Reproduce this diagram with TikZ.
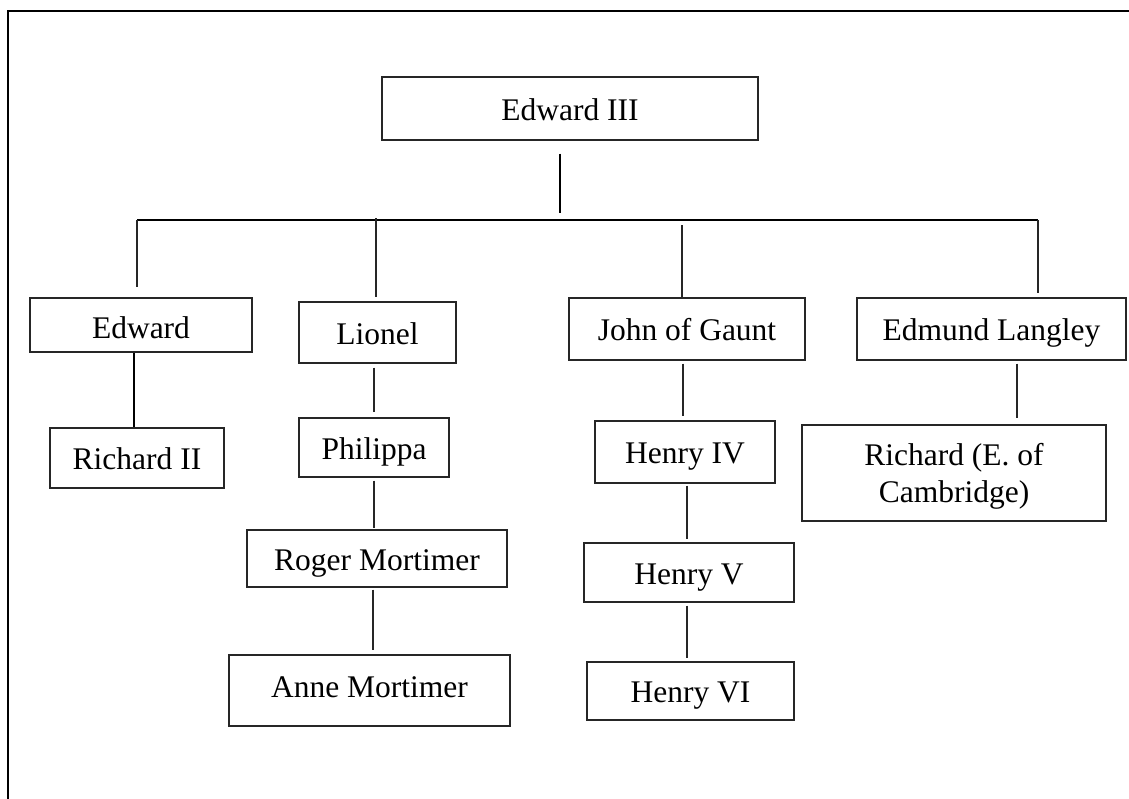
\documentclass[tikz,border=0pt]{standalone}
\usepackage{fontspec}
\setmainfont{Liberation Serif}
\begin{document}
\begin{tikzpicture}[x=1pt,y=-1pt,
  person/.style={draw=black!85, line width=1.2pt, rectangle, inner sep=0pt, anchor=center,
    font=\fontsize{31.5}{37}\selectfont, text height=23.5pt, text depth=0pt},
  link/.style={draw=black!85, line width=1.1pt},
  heavy/.style={draw=black, line width=2.3pt},
  bar/.style={draw=black, line width=1.6pt}]
\useasboundingbox (0,0) rectangle (1129,798);
\clip (0,0) rectangle (1129,798);
\fill[white] (0,0) rectangle (1129,798);
% outer frame (cut off at right and bottom)
\draw[line width=2pt] (8,830) -- (8,11) -- (1160,11);

% nodes
\node[person, minimum width=376pt, minimum height=63pt] (e3) at (570,108.5) {Edward III};
\node[person, minimum width=222pt, minimum height=54pt, text height=26pt] (edw) at (141,325) {Edward};
\node[person, minimum width=157pt, minimum height=61pt] (lio) at (377.5,332.5) {Lionel};
\node[person, minimum width=236pt, minimum height=62pt] (jog) at (687,329) {John of Gaunt};
\node[person, minimum width=269pt, minimum height=62pt] (edm) at (991.5,329) {Edmund Langley};
\node[person, minimum width=174pt, minimum height=60pt] (r2) at (137,458) {Richard II};
\node[person, minimum width=150pt, minimum height=59pt] (phi) at (374,447.5) {Philippa};
\node[person, minimum width=260pt, minimum height=57pt] (rog) at (377,558.5) {Roger Mortimer};
\node[person, minimum width=281pt, minimum height=71pt, text depth=9pt] (ann) at (369.5,690.5) {Anne Mortimer};
\node[person, minimum width=180pt, minimum height=62pt] (h4) at (685,452) {Henry IV};
\node[person, minimum width=210pt, minimum height=59pt] (h5) at (689,572.5) {Henry V};
\node[person, minimum width=207pt, minimum height=58pt] (h6) at (690.5,691) {Henry VI};
\node[person, minimum width=304pt, minimum height=96pt, align=center, text height=59pt, text depth=1pt] (ric) at (954,473) {Richard (E. of\\Cambridge)};

% bar coordinates
\coordinate (barL) at (137,220);
\coordinate (barR) at (1038,220);
\coordinate (barJ) at (560,220);
\coordinate (dLio) at (376,218);
\coordinate (dJog) at (682,225);

% stem and sibling bar
\draw[heavy, shorten <=13pt, shorten >=7pt] ([xshift=-10pt]e3.south) -- (barJ);
\draw[bar] (barL) -- (barR);

% drops to children
\draw[link, shorten >=10pt] (barL) -- ([xshift=-4pt]edw.north);
\draw[link, shorten >=4pt] (dLio) -- ([xshift=-1.5pt]lio.north);
\draw[link] (dJog) -- ([xshift=-5pt]jog.north);
\draw[link, shorten >=4pt] (barR) -- ([xshift=46.5pt]edm.north);

% descent lines
\draw[heavy] ([xshift=-7pt]edw.south) -- ([xshift=-3pt]r2.north);
\draw[link, shorten <=4pt, shorten >=5pt] ([xshift=-3.5pt]lio.south) -- (phi.north);
\draw[link, shorten <=3pt, shorten >=1pt] (phi.south) -- ([xshift=-3pt]rog.north);
\draw[link, shorten <=2pt, shorten >=4pt] ([xshift=-4pt]rog.south) -- ([xshift=3.5pt]ann.north);
\draw[link, shorten <=3pt, shorten >=4pt] ([xshift=-4pt]jog.south) -- ([xshift=-2pt]h4.north);
\draw[link, shorten <=2pt, shorten >=3pt] ([xshift=2pt]h4.south) -- ([xshift=-2pt]h5.north);
\draw[link, shorten <=3pt, shorten >=3pt] ([xshift=-2pt]h5.south) -- ([xshift=-3.5pt]h6.north);
\draw[link, shorten <=3pt, shorten >=6pt] ([xshift=25.5pt]edm.south) -- ([xshift=63pt]ric.north);
\end{tikzpicture}
\end{document}
